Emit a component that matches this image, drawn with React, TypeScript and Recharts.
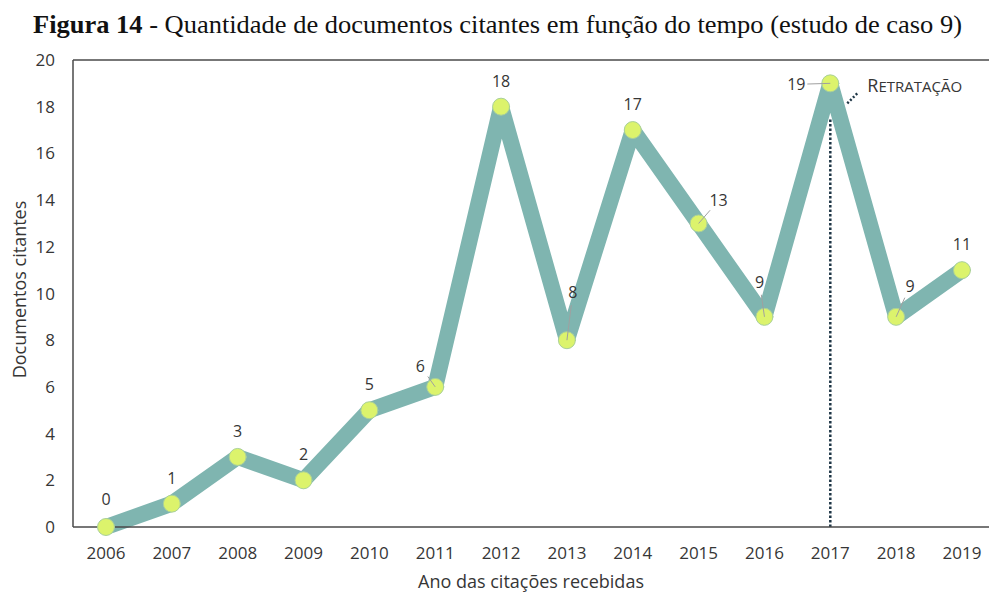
import React from 'react';
import { LineChart, Line, XAxis, YAxis, ReferenceLine, ReferenceDot, LabelList } from 'recharts';

const years = [2006, 2007, 2008, 2009, 2010, 2011, 2012, 2013, 2014, 2015, 2016, 2017, 2018, 2019];
const citing = [0, 1, 3, 2, 5, 6, 18, 8, 17, 13, 9, 19, 9, 11];
const yTicks = [0, 2, 4, 6, 8, 10, 12, 14, 16, 18, 20];
const retractionYear = 2017;
const retractionValue = 19;
const retractionLabel = 'Retratação';

const data = years.map((y, i) => ({ year: y, value: citing[i] }));

// label placement (style only): [dx, dy, leader]
const labelOffsets: [number, number, boolean][] = [
  [0, -28, false],
  [0, -26, false],
  [0, -26, false],
  [0, -26, false],
  [0, -26, false],
  [-15, -21, true],
  [0, -26, false],
  [6, -48, true],
  [0, -26, false],
  [20, -23, true],
  [-5, -35, true],
  [-34, 1, true],
  [14, -31, true],
  [0, -26, false],
];

const FONT = '"Open Sans", "Noto Sans", sans-serif';
const TXT = '#363636';

const ValueLabel = (props: any) => {
  const { x, y, value, index } = props;
  const [dx, dy, leader] = labelOffsets[index] || [0, -26, false];
  const lx = x + dx;
  const ly = y + dy;
  let line = null;
  if (leader) {
    const len = Math.sqrt(dx * dx + dy * dy);
    const ux = dx / len;
    const uy = dy / len;
    const stop = Math.abs(dx) > Math.abs(dy) ? 11 : 13;
    line = (
      <line x1={x} y1={y} x2={lx - ux * stop} y2={ly - uy * stop} stroke="#a0a0a0" strokeWidth={1} />
    );
  }
  return (
    <g>
      {line}
      <text x={lx} y={ly} textAnchor="middle" dominantBaseline="central" fontFamily={FONT} fontSize={16} fill={TXT}>
        {value}
      </text>
    </g>
  );
};

const RetractionMark = (props: any) => {
  const { cx, cy } = props;
  const first = retractionLabel.charAt(0).toUpperCase();
  const rest = retractionLabel.slice(1).toUpperCase();
  return (
    <g>
      <line x1={cx + 17} y1={cy + 20} x2={cx + 28} y2={cy + 9} stroke="#1d3545" strokeWidth={2.5} strokeDasharray="2 2" />
      <text x={cx + 37} y={cy + 9} fontFamily={FONT} fill={TXT}>
        <tspan fontSize={18}>{first}</tspan>
        <tspan fontSize={15}>{rest}</tspan>
      </text>
    </g>
  );
};

export default function App() {
  return (
    <div style={{ position: 'absolute', left: 0, top: 0, width: 989, height: 592, background: '#fff' }}>
      <svg width={989} height={50} style={{ position: 'absolute', left: 0, top: 0 }}>
        <text x={33} y={33} style={{ fontFamily: 'Liberation Serif, Times New Roman, Times, serif', fontSize: 26 }} fill="#111" textLength={929} lengthAdjust="spacingAndGlyphs">
          <tspan fontWeight="bold">Figura 14</tspan>
          <tspan> - Quantidade de documentos citantes em função do tempo (estudo de caso 9)</tspan>
        </text>
      </svg>
      <div style={{ position: 'absolute', left: 0, top: 0 }}>
        <LineChart width={989} height={592} data={data} margin={{ top: 60, right: 0, bottom: 0, left: 0 }}>
          <XAxis
            dataKey="year"
            type="number"
            domain={[2006, 2019]}
            ticks={years}
            interval={0}
            padding={{ left: 33, right: 27 }}
            height={65}
            tickLine={false}
            axisLine={{ stroke: '#4a4a4a', strokeWidth: 1.5 }}
            tick={{ fontFamily: FONT, fontSize: 17, fill: TXT }}
            tickMargin={14}
            label={{ value: 'Ano das citações recebidas', position: 'insideBottom', offset: 4, fontFamily: FONT, fontSize: 18, fill: TXT }}
          />
          <YAxis
            type="number"
            domain={[0, 20]}
            ticks={yTicks}
            interval={0}
            width={73}
            tickLine={false}
            axisLine={{ stroke: '#4a4a4a', strokeWidth: 1.5 }}
            tick={{ fontFamily: FONT, fontSize: 17, fill: TXT }}
            tickMargin={12}
            label={(p: any) => {
              const vb = p.viewBox || {};
              const cy = (vb.y || 60) + (vb.height || 467) / 2 - 4;
              return (
                <text x={19} y={cy} transform={`rotate(-90, 19, ${cy})`} textAnchor="middle" dominantBaseline="central" fontFamily={FONT} fontSize={18} fill={TXT}>
                  Documentos citantes
                </text>
              );
            }}
          />
          <ReferenceLine y={20} stroke="#4a4a4a" strokeWidth={1.5} ifOverflow="visible" />
          <ReferenceLine
            segment={[{ x: retractionYear, y: 0 }, { x: retractionYear, y: 17.5 }]}
            stroke="#1d3545"
            strokeWidth={2.5}
            strokeDasharray="2.5 2"
          />
          <Line
            dataKey="value"
            stroke="#7fb5b0"
            strokeWidth={16}
            strokeLinejoin="round"
            strokeLinecap="round"
            isAnimationActive={false}
            dot={{ r: 8.5, fill: '#dcf36c', stroke: '#a9d09a', strokeWidth: 1 }}
            activeDot={false}
          >
            <LabelList dataKey="value" content={ValueLabel} />
          </Line>
          <ReferenceDot x={retractionYear} y={retractionValue} r={0} shape={RetractionMark} ifOverflow="visible" />
        </LineChart>
      </div>
    </div>
  );
}
